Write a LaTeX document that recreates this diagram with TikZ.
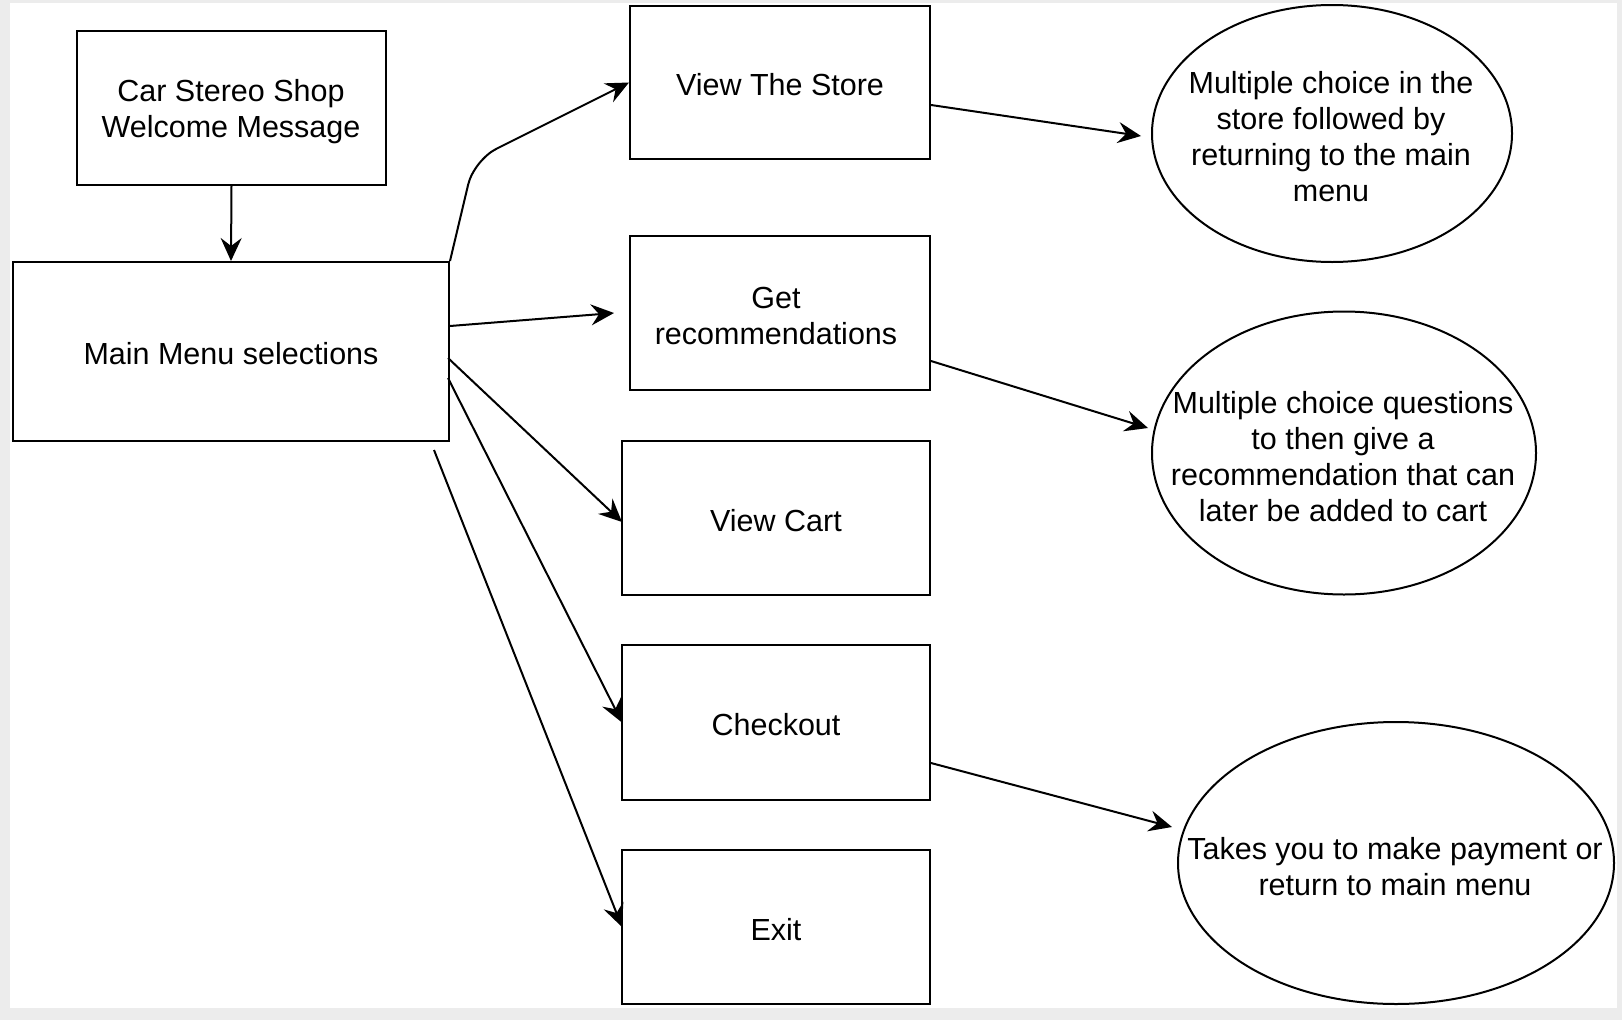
\documentclass[tikz,border=0pt]{standalone}
\usepackage{fontspec}
\setmainfont{Liberation Sans}
\usetikzlibrary{shapes.geometric,arrows.meta}
\begin{document}
\begin{tikzpicture}[x=1pt,y=-1pt,
  txt/.style={font=\fontsize{30.5}{36}\selectfont, align=center, text=black},
  box/.style={draw=black, line width=2pt, fill=white, inner sep=0pt, txt},
  onebox/.style={box, execute at begin node={\rule{0pt}{27pt}}},
  oval/.style={draw=black, line width=2pt, fill=white, ellipse, inner sep=0pt},
  arr/.style={draw=black, line width=2pt, -{Stealth[length=23pt,width=21pt,inset=8pt]}}]
\useasboundingbox (0,0) rectangle (1622,1020);
\fill[gray!15] (0,0) rectangle (1622,1020);
\fill[white] (10,3) rectangle (1617,1008);

\node[box, minimum width=309pt, minimum height=154pt] (welcome) at (231.5,108) {};
\node[txt] (welcomet) at (231,112) {Car Stereo Shop\\Welcome Message};
\node[onebox, minimum width=436pt, minimum height=179pt] (main) at (231,351.5) {Main Menu selections};
\node[onebox, minimum width=300pt, minimum height=153pt] (store) at (780,82.5) {View The Store};
\node[box, minimum width=300pt, minimum height=154pt] (rec) at (780,313) {};
\node[txt] (rect) at (776,316) {Get\\recommendations};
\node[onebox, minimum width=308pt, minimum height=154pt] (cart) at (776,518) {View Cart};
\node[onebox, minimum width=308pt, minimum height=155pt] (checkout) at (776,722.5) {Checkout};
\node[onebox, minimum width=308pt, minimum height=154pt] (exit) at (776,927) {Exit};

\node[oval, minimum width=360pt, minimum height=257pt] (e1) at (1332,133.5) {};
\node[txt] (e1t) at (1331,136.5) {Multiple choice in the\\store followed by\\returning to the main\\menu};
\node[oval, minimum width=384pt, minimum height=283pt] (e2) at (1344,453) {};
\node[txt] (e2t) at (1343,456.5) {Multiple choice questions\\to then give a\\recommendation that can\\later be added to cart};
\node[oval, minimum width=436pt, minimum height=282pt] (e3) at (1396,863) {};
\node[txt] (e3t) at (1395,866.5) {Takes you to make payment or\\return to main menu};

\coordinate (bend1) at (474,160);

\draw[arr] (welcome.south) -- (main.north);
\draw[arr, rounded corners=25pt] (main.north east) -- (bend1) -- (store.west);
\draw[arr] ([yshift=25.5pt]main.east) -- ([xshift=-15pt]rec.west);
\draw[arr] ([xshift=-2pt,yshift=-6.5pt]main.east) -- ([xshift=1pt,yshift=-4pt]cart.west);
\draw[arr] ([xshift=-2pt,yshift=-26.5pt]main.east) -- ([xshift=1pt]checkout.west);
\draw[arr] ([xshift=-16pt,yshift=-8pt]main.south east) -- ([xshift=1pt]exit.west);
\draw[arr] ([yshift=-22.5pt]store.east) -- ([xshift=-10pt,yshift=-2.5pt]e1.west);
\draw[arr] ([yshift=-48pt]rec.east) -- ([xshift=-3pt,yshift=25pt]e2.west);
\draw[arr] ([yshift=-40.5pt]checkout.east) -- ([xshift=-5pt,yshift=36pt]e3.west);
\end{tikzpicture}
\end{document}
